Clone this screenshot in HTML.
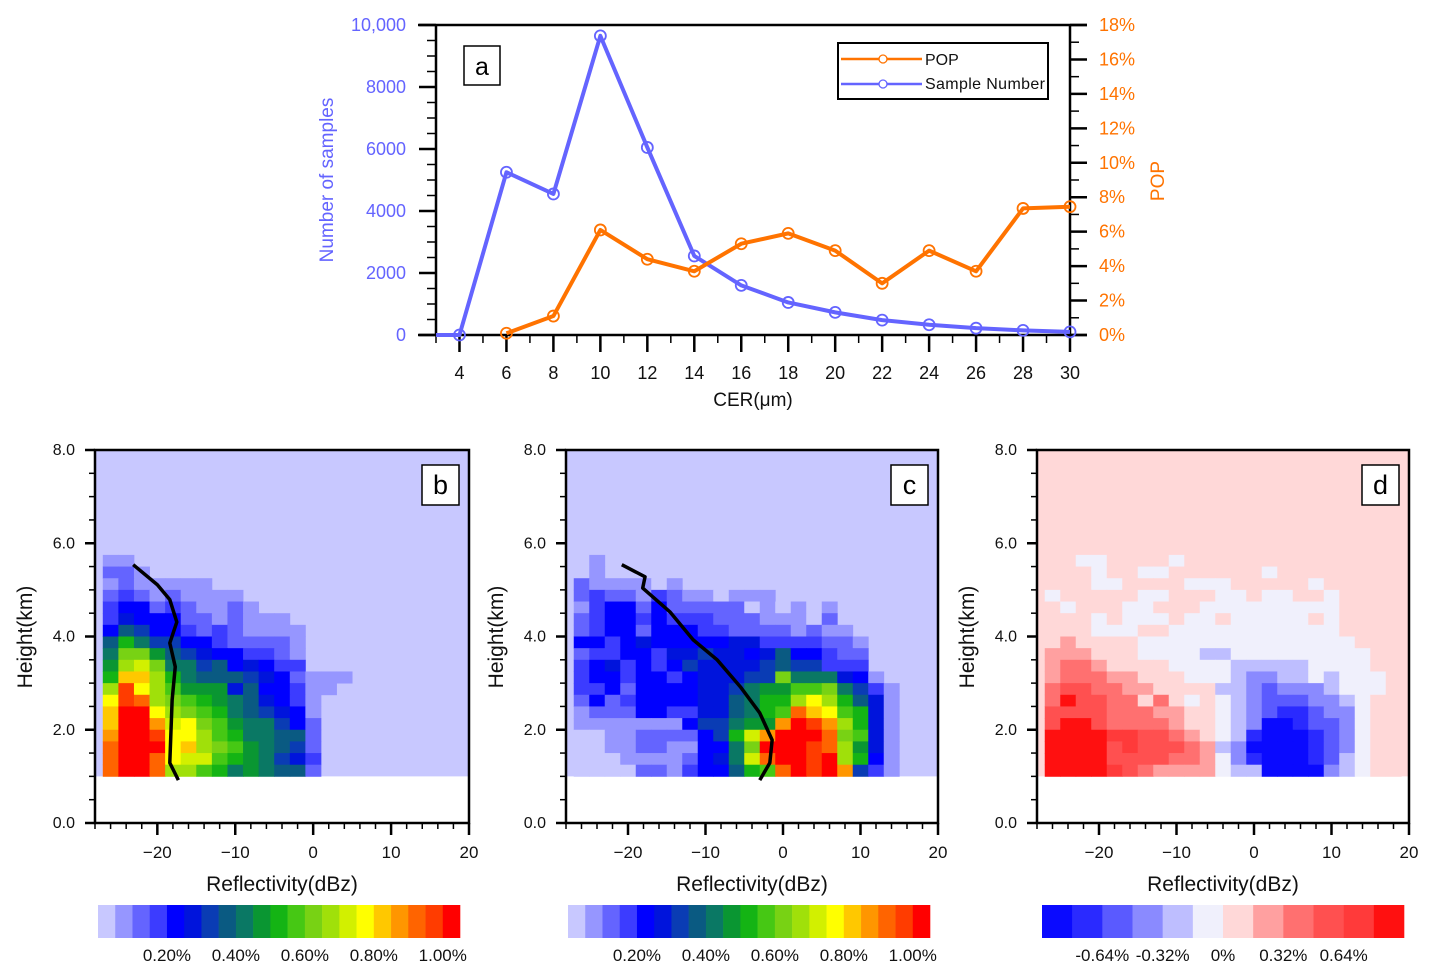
<!DOCTYPE html>
<html><head><meta charset="utf-8"><style>
html,body{margin:0;padding:0;background:#fff;}
svg{display:block;font-family:"Liberation Sans",sans-serif;}
</style></head><body>
<svg id="fig" width="1439" height="979" viewBox="0 0 1439 979" xmlns="http://www.w3.org/2000/svg"></svg>
<script>
// ---------- Panel a data ----------
const cerCats = [3,4,6,8,10,12,14,16,18,20,22,24,26,28,30];
const sampleVals = [0,0,5250,4550,9650,6050,2550,1600,1050,730,480,330,220,150,100];
const popCats = [6,8,10,12,14,16,18,20,22,24,26,28,30];
const popVals = [0.1,1.1,6.1,4.4,3.7,5.3,5.9,4.9,3.0,4.9,3.7,7.35,7.45];
const leftTicks = [0,2000,4000,6000,8000,10000];
const leftTickLabels = ["0","2000","4000","6000","8000","10,000"];
const rightTicks = [0,2,4,6,8,10,12,14,16,18];
const xTicksA = [4,6,8,10,12,14,16,18,20,22,24,26,28,30];

// ---------- Heatmap data (rows top→bottom, from 5.5 km down to 1.0 km; columns from -27 dBz, 2 dBz wide) ----------
const gridB = ["11","221","1211111","232121111","3442321121","354442212111","4764432321111","7a86644322221","8cc9765443321","9dec886745433","aggda87776542111","djfdb9995744311","fjidcba9875431","gkkfdcba876541","gkkhefcb988642","hkkjffdba88772","ikkkfgdcb98762","ikkifeeba98653","ikkiddba898772"];
const gridC = ["01","01","2111101","2322132110111","13442422222010101","23443433322211102","234424443322221211","4434544444553333221","2334435565545744322","3453434655556766333","3443443455566c888541","33424444556899bbc8631","242344445578aadfda751","122244335578abigfba51","1111111466899hkjhda51","0011222246aehkkkicb51","00112211448ckkkjid951","00011112458eikkjkda41","00002213447abikjkh631"];
const gridD = ["66556666566666666666666","66656655666666566666666","66655666655566666566666","56666655666556556656666","65666556665555555556666","66656555655655555656666","66655566555555555556666","67666655555555555555666","77766655554455555555566","78876666555544444555566","78887766655543344545556","89988776666443233345556","8b998868656543222334566","99998887766543211233566","9bb98888766543001223566","bbbbaa99876541000123566","bbbb9a99987430000123566","bbbb9999887531000124566","bbbba987777544000034566"];
const lineBdbz = [-23.1,-20.0,-18.4,-17.5,-18.4,-17.7,-18.1,-18.4,-17.3];
const lineBh = [5.54,5.11,4.79,4.31,3.86,3.35,2.64,1.29,0.92];
const lineCdbz = [-20.8,-17.8,-18.1,-14.6,-11.6,-8.5,-5.5,-3.0,-1.4,-1.7,-3.0];
const lineCh = [5.54,5.28,5.04,4.53,3.93,3.50,2.92,2.36,1.78,1.29,0.92];
const seqColors = ["#c8c8ff","#9696ff","#6464ff","#3c3cff","#0000ff","#0014dc","#0a3cb4","#0a5a82","#0a7864","#0a9632","#14b414","#46c814","#78d214","#a0e00a","#d2f000","#ffff00","#ffc800","#ff9600","#ff6400","#ff3c00","#ff0000"];
const divColors = ["#0a0aff","#2a2aff","#5a5aff","#8a8aff","#bebeff","#f0f0fc","#ffd8d8","#ffa0a0","#ff7070","#ff5050","#ff3a3a","#ff1010"];
const seqLabels = ["0.20%","0.40%","0.60%","0.80%","1.00%"];
const divLabels = ["-0.64%","-0.32%","0%","0.32%","0.64%"];
const heightTicks = [0,2,4,6,8];
const dbzTicks = [-20,-10,0,10,20];

const NS = "http://www.w3.org/2000/svg";
const svg = document.getElementById('fig');
function mk(tag, attrs, parent){ const e=document.createElementNS(NS,tag); for(const k in attrs) e.setAttribute(k,attrs[k]); (parent||svg).appendChild(e); return e; }
function txt(x,y,s,attrs,parent){ const e=mk('text',Object.assign({x:x,y:y},attrs),parent); e.textContent=s; return e; }

// ================= Panel a =================
const BLUE="#6464ff", ORANGE="#ff7300";
const ax={x0:436,x1:1070,y0:335,y1:25};
const xA=v=>ax.x0+(v-3)/27*(ax.x1-ax.x0);
const yL=v=>ax.y0-v/10000*(ax.y0-ax.y1);
const yR=v=>ax.y0-v/18*(ax.y0-ax.y1);
const ga=mk('g',{});


let fr=mk('path',{d:`M${ax.x0-18},${ax.y1}H${ax.x1+17}M${ax.x0},${ax.y1}V${ax.y0}M${ax.x1},${ax.y1}V${ax.y0}M${ax.x0-18},${ax.y0}H${ax.x1+17}`,stroke:'#000','stroke-width':2.5,fill:'none'},ga);


for(let v=0;v<=10000;v+=500){ const major=v%2000===0; const y=yL(v); mk('line',{x1:ax.x0-(major?17:9),x2:ax.x0,y1:y,y2:y,stroke:'#000','stroke-width':major?2.5:1.5},ga); }
leftTicks.forEach((v,i)=>{ const t=txt(406,yL(v)+6,leftTickLabels[i],{'text-anchor':'end','font-size':18,fill:BLUE},ga);   });
for(let v=0;v<=18;v+=1){ const major=v%2===0; const y=yR(v); mk('line',{x1:ax.x1,x2:ax.x1+(major?17:9),y1:y,y2:y,stroke:'#000','stroke-width':major?2.5:1.5},ga); }
rightTicks.forEach(v=>{ const t=txt(1099,yR(v)+6,v+"%",{'font-size':18,fill:ORANGE},ga);   });
for(let v=3;v<=30;v+=1){ const major=v%2===0; const x=xA(v); mk('line',{x1:x,x2:x,y1:ax.y0,y2:ax.y0+(major?17:8),stroke:'#000','stroke-width':major?2.5:1.5},ga); }
xTicksA.forEach(v=>{ const t=txt(xA(v),379,String(v),{'text-anchor':'middle','font-size':18,fill:'#111'},ga);   });
let xt=txt(753,406,"CER(μm)",{'text-anchor':'middle','font-size':19,fill:'#111'},ga);


let yt=txt(0,0,"Number of samples",{'text-anchor':'middle','font-size':19,fill:BLUE,transform:'translate(333,180) rotate(-90)'},ga);


let yt2=txt(0,0,"POP",{'text-anchor':'middle','font-size':19,fill:ORANGE,transform:'translate(1164,181) rotate(-90)'},ga);


let sp=mk('polyline',{points:cerCats.map((c,i)=>xA(c)+","+yL(sampleVals[i])).join(' '),fill:'none',stroke:BLUE,'stroke-width':4,'stroke-linejoin':'round'},ga);


cerCats.forEach((c,i)=>{ if(i===0) return; const m=mk('circle',{cx:xA(c),cy:yL(sampleVals[i]),r:5.5,fill:'none',stroke:BLUE,'stroke-width':1.8},ga);   });
let pp=mk('polyline',{points:popCats.map((c,i)=>xA(c)+","+yR(popVals[i])).join(' '),fill:'none',stroke:ORANGE,'stroke-width':4,'stroke-linejoin':'round'},ga);


popCats.forEach((c,i)=>{ const m=mk('circle',{cx:xA(c),cy:yR(popVals[i]),r:5.5,fill:'none',stroke:ORANGE,'stroke-width':1.8},ga);   });
let la=mk('rect',{x:464,y:46,width:36,height:39,fill:'#fff',stroke:'#000','stroke-width':1.5},ga);


txt(482,75,"a",{'text-anchor':'middle','font-size':25,fill:'#000'},ga);
const lg=mk('g',{},ga);


mk('rect',{x:838,y:43,width:210,height:56,fill:'#fff',stroke:'#000','stroke-width':2},lg);
mk('line',{x1:841,x2:922,y1:59,y2:59,stroke:ORANGE,'stroke-width':2.5},lg);
mk('circle',{cx:883,cy:59,r:4,fill:'#fff',stroke:ORANGE,'stroke-width':1.3},lg);
let le1=txt(925,65,"POP",{'font-size':16,fill:'#111'},lg);


mk('line',{x1:841,x2:922,y1:84,y2:84,stroke:BLUE,'stroke-width':2.5},lg);
mk('circle',{cx:883,cy:84,r:4,fill:'#fff',stroke:BLUE,'stroke-width':1.3},lg);
let le2=txt(925,89,"Sample Number",{'font-size':16,fill:'#111',textLength:120},lg);



// ================= Heatmap panels =================
function panel(name,x0,x1,grid,colors,bg,lineX,lineY,letter,cbLabels,cbPerLabel,cbOffset){
  const g=mk('g',{});
  
  
  const yTop=450,yBot=823;
  const sx=v=>x0+(v+28)/48*(x1-x0);
  const sy=h=>yBot-h/8*(yBot-yTop);
  mk('rect',{x:x0,y:sy(8),width:x1-x0,height:sy(1)-sy(8),fill:bg},g);
  grid.forEach((row,ri)=>{
    const h=1+(grid.length-1-ri)*0.25;
    for(let ci=0;ci<row.length;ci++){
      const lv=parseInt(row[ci],36);
      const d=-27+ci*2;
      const xa=sx(d), xb=Math.min(sx(d+2),x1);
      const c=mk('rect',{x:xa,y:sy(h+0.25),width:xb-xa+0.4,height:sy(h)-sy(h+0.25)+0.4,fill:colors[lv]},g);
      
      
    }
  });
  if(lineX){
    const l=mk('polyline',{points:lineX.map((v,i)=>sx(v)+","+sy(lineY[i])).join(' '),fill:'none',stroke:'#000','stroke-width':3.5,'stroke-linejoin':'round'},g);
    
    
  }
  mk('rect',{x:x0,y:yTop,width:x1-x0,height:yBot-yTop,fill:'none',stroke:'#000','stroke-width':2.5},g);
  for(let h=0;h<=8;h+=0.5){ const major=h%2===0; mk('line',{x1:x0-(major?10:6),x2:x0,y1:sy(h),y2:sy(h),stroke:'#000','stroke-width':major?2.5:1.5},g); }
  heightTicks.forEach(h=>{ const t=txt(x0-20,sy(h)+5,h.toFixed(1),{'text-anchor':'end','font-size':16,fill:'#111'},g);   });
  for(let d=-28;d<=20;d+=2){ const major=d%10===0; mk('line',{x1:sx(d),x2:sx(d),y1:yBot,y2:yBot+(major?12:6),stroke:'#000','stroke-width':major?2.5:1.5},g); }
  dbzTicks.forEach(d=>{ const t=txt(sx(d),858,(d<0?"\u2212"+(-d):String(d)),{'text-anchor':'middle','font-size':17,fill:'#111'},g);   });
  const xtt=txt((x0+x1)/2,891,"Reflectivity(dBz)",{'text-anchor':'middle','font-size':21,fill:'#111'},g);
  
  
  const ytt=txt(0,0,"Height(km)",{'text-anchor':'middle','font-size':21,fill:'#111',transform:`translate(${x0-63},637) rotate(-90)`},g);
  
  
  const lb=mk('rect',{x:x1-47,y:465,width:37,height:40,fill:'#fff',stroke:'#000','stroke-width':1.5},g);
  
  
  txt(x1-28.5,494,letter,{'text-anchor':'middle','font-size':27,fill:'#000'},g);
  const cb=mk('g',{},g);
  
  
  const cx0=cbOffset[0], cx1=cbOffset[1], w=(cx1-cx0)/colors.length;
  colors.forEach((c,i)=>{ const r=mk('rect',{x:cx0+i*w,y:905,width:w+0.3,height:33,fill:c},cb);   });
  cbLabels.forEach((s,i)=>{ const t=txt(cx0+cbPerLabel[i]*w,961,s,{'text-anchor':'middle','font-size':17,fill:'#111'},cb);   });
}
panel('panel-b',95,469,gridB,seqColors,'#c8c8ff',lineBdbz,lineBh,'b',seqLabels,[4,8,12,16,20],[98,460]);
panel('panel-c',566,938,gridC,seqColors,'#c8c8ff',lineCdbz,lineCh,'c',seqLabels,[4,8,12,16,20],[568,930]);
panel('panel-d',1037,1409,gridD,divColors,'#ffd8d8',null,null,'d',divLabels,[2,4,6,8,10],[1042,1404]);
</script>
</body></html>
